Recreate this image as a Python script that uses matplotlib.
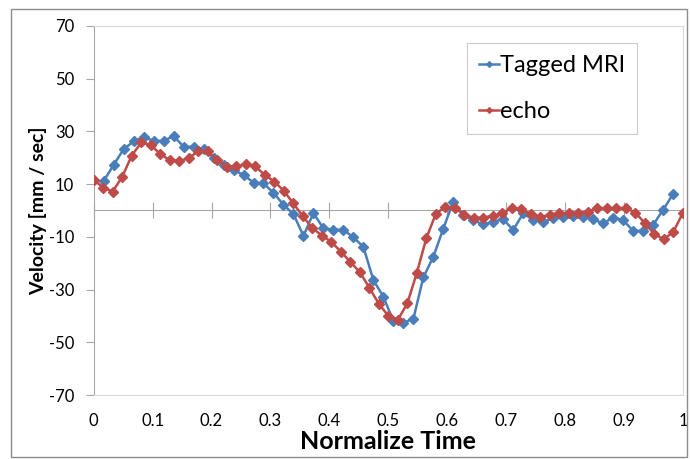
import numpy as np
import matplotlib.pyplot as plt
from matplotlib.patches import Rectangle

plt.rcParams['font.family'] = ['Lato', 'DejaVu Sans']
plt.rcParams['axes.unicode_minus'] = False

# Tagged MRI: samples at k/59, k = 1..58
mri_vel = [11.2, 17.3, 23.3, 26.2, 28.0, 26.4, 26.4, 28.3, 24.2, 24.2,
           23.3, 20.1, 17.2, 15.3, 13.5, 10.6, 10.3, 6.7, 2.2, -1.4,
           -9.6, -1.0, -6.8, -7.3, -7.3, -10.2, -13.8, -26.4, -32.7, -41.9,
           -42.5, -41.2, -25.4, -17.6, -6.9, 3.4, -1.8, -3.7, -5.3, -4.3,
           -3.3, -7.4, -1.1, -3.6, -4.3, -3.0, -2.4, -2.0, -2.4, -3.3,
           -4.9, -2.7, -3.6, -7.7, -7.7, -5.5, 0.2, 6.2]
mri_time = np.arange(1, len(mri_vel) + 1) / 59

# echo: samples at k/62, k = 0..62
echo_vel = [11.6, 8.7, 7.2, 12.8, 20.8, 25.8, 24.9, 21.4, 19.1, 18.6,
            20.0, 22.4, 22.4, 19.1, 16.6, 16.7, 17.6, 16.7, 13.5, 11.0,
            7.5, 2.7, -2.2, -6.6, -9.5, -11.9, -15.6, -19.5, -23.4, -29.3,
            -35.4, -40.0, -41.5, -35.2, -23.6, -10.5, -1.2, 1.4, 0.9, -1.6,
            -2.8, -2.7, -2.0, -1.1, 1.1, 0.5, -1.4, -2.4, -1.7, -0.8,
            -1.1, -1.0, -0.4, 0.9, 0.9, 0.9, 0.9, -0.8, -4.9, -9.0,
            -10.9, -8.0, -0.8]
echo_time = np.arange(len(echo_vel)) / (len(echo_vel) - 1)

xticks = np.round(np.arange(0, 1.01, 0.1), 1)
xticklabels = ['0', '0.1', '0.2', '0.3', '0.4', '0.5', '0.6', '0.7', '0.8', '0.9', '1']
yticks = np.arange(-70, 71, 20)

blue = '#4a7ebb'
red = '#be4b48'

fig = plt.figure(figsize=(6.9, 4.59), dpi=100)
fig.patches.append(Rectangle((11 / 690, 2 / 459), 676 / 690, 448 / 459,
                             transform=fig.transFigure, fill=False,
                             edgecolor='#8c8c8c', lw=1))
ax = fig.add_axes([93.7 / 690, 1 - 395 / 459, 589.3 / 690, 369 / 459])

ax.plot(mri_time, mri_vel, color=blue, lw=1.8, marker='D', ms=4.8,
        label='Tagged MRI', zorder=3)
ax.plot(echo_time, echo_vel, color=red, lw=1.8, marker='D', ms=4.8,
        label='echo', zorder=3)

ax.set_xlim(0, 1)
ax.set_ylim(-70, 70)
ax.set_xticks(xticks)
ax.set_xticklabels(xticklabels)
ax.set_yticks(yticks)

for s in ['top', 'right', 'bottom']:
    ax.spines[s].set_color('#d9d9d9')
ax.spines['left'].set_color('#a6a6a6')
ax.tick_params(axis='x', length=0, pad=13, labelsize=12)
ax.tick_params(axis='y', length=6, direction='out', color='#a6a6a6',
               pad=8, labelsize=12)

# horizontal axis line at zero with crossing ticks
zero = ax.secondary_xaxis(0.5)
zero.set_xticks(xticks)
zero.set_xticklabels([])
for sp in zero.spines.values():
    sp.set_color('#a6a6a6')
zero.tick_params(length=11, direction='inout', color='#a6a6a6')

ax.set_xlabel('Normalize Time', fontsize=18, fontweight='bold', labelpad=1)
ax.set_ylabel('Velocity [mm / sec]', fontsize=14, fontweight='bold', labelpad=1.5)

leg = ax.legend(loc='upper left', bbox_to_anchor=(0.633, 0.953), fontsize=17,
                frameon=True, fancybox=False, edgecolor='#bfbfbf',
                handlelength=0.85, handletextpad=0.05, labelspacing=1.05,
                borderpad=0.5, borderaxespad=0, markerscale=0.6)
leg.get_frame().set_linewidth(0.8)

fig.savefig('out.png', dpi=100)
